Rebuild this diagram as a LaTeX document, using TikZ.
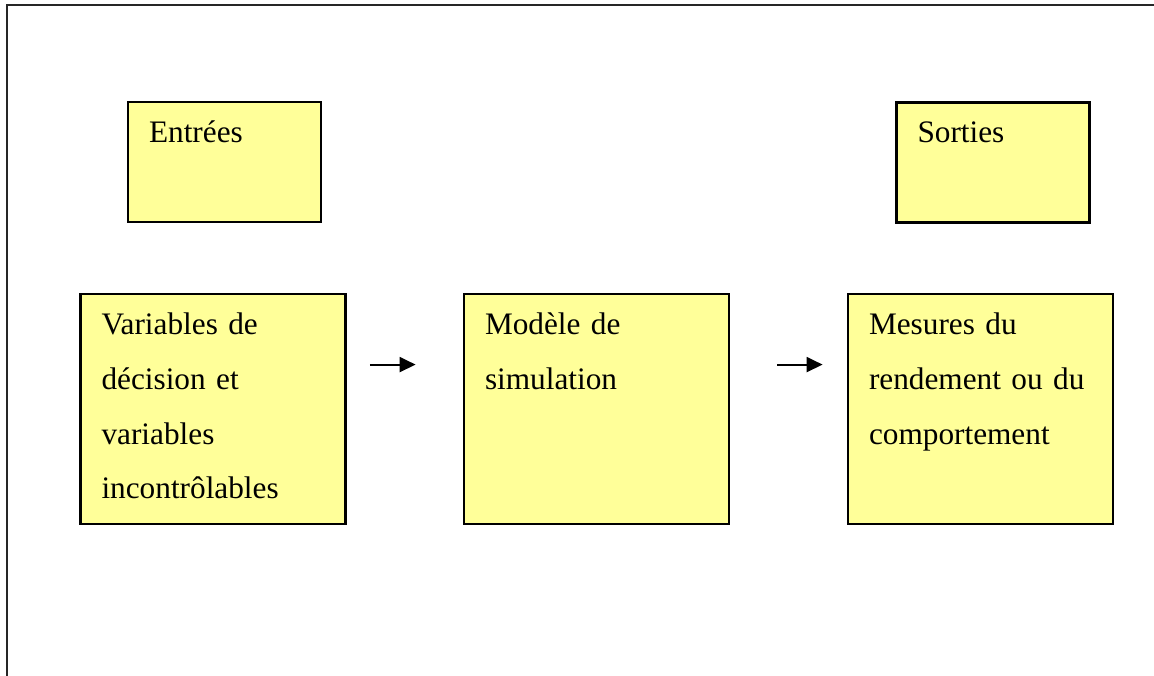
\documentclass[tikz,border=0pt]{standalone}
\usepackage{fontspec}
\setmainfont{Liberation Serif}
\usetikzlibrary{arrows.meta}

\definecolor{boxyellow}{HTML}{FFFF99}

\begin{document}
\begin{tikzpicture}[
    >={Triangle[length=0.16cm,width=0.15cm]},
    panel/.style={draw, fill=boxyellow, line width=0.8pt, align=left,
        inner xsep=0.21cm, inner ysep=0.19cm, text height=0.215cm,
        font=\fontsize{8.9}{15.6}\selectfont},
    small panel/.style={panel, text width=1.51cm, text depth=0.605cm},
    big panel/.style={panel, text width=2.23cm, text depth=1.705cm},
    flow/.style={->, line width=0.6pt}
]

    \useasboundingbox (0,0) rectangle (11.54,6.76);

    % Coordinates
    \coordinate (F1) at (0.07,0);      % frame bottom left
    \coordinate (F2) at (0.07,6.71);   % frame top left
    \coordinate (F3) at (11.54,6.71);  % frame top right

    % Draw frame
    \draw[line width=0.6pt, black!85] (F1) -- (F2) -- (F3);

    % Top labels
    \node[small panel] (inputs)  at (2.245,5.14) {Entrées};
    \node[small panel] (outputs) at (9.93,5.135) {Sorties};

    % Main row
    \node[big panel] (vars)    at (2.13,2.67)  {Variables de\\décision et\\variables\\incontrôlables};
    \node[big panel] (model)   at (5.965,2.67) {Modèle de\\simulation};
    \node[big panel] (measure) at (9.805,2.67) {Mesures du\\rendement ou du\\comportement};

    % Arrows
    \draw[flow, shorten <=0.23cm, shorten >=0.47cm]
        ([yshift=-0.72cm]vars.north east) -- ([yshift=-0.72cm]model.north west);
    \draw[flow, shorten <=0.47cm, shorten >=0.24cm]
        ([yshift=-0.72cm]model.north east) -- ([yshift=-0.72cm]measure.north west);

\end{tikzpicture}
\end{document}
